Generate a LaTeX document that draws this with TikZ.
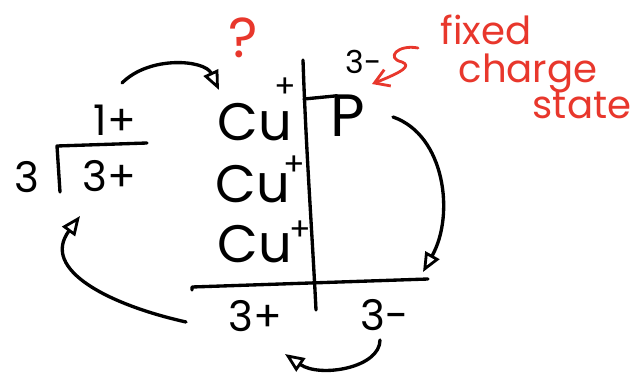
\documentclass[tikz,border=0pt]{standalone}
\usepackage{fontspec}
\setmainfont{Poppins}
\usetikzlibrary{arrows.meta}
\definecolor{inkred}{HTML}{E8372C}
\newcommand{\supplus}[2]{\kern#1\raisebox{#2}{\fontsize{18}{18}\selectfont +}}
\tikzset{
  ink/.style={line width=1.9pt, line cap=round, line join=round},
  arr/.style={ink, -{Triangle[open, length=11pt, width=9pt, line width=1.6pt]}},
  redarr/.style={ink, inkred, line width=1.6pt, -{Straight Barb[length=8pt, width=10pt, line width=1.6pt]}},
  big/.style={font=\fontsize{30}{30}\selectfont, inner sep=0pt},
  mid/.style={font=\fontsize{24}{24}\selectfont, inner sep=0pt},
  small/.style={font=\fontsize{18}{18}\selectfont, inner sep=0pt},
  redtxt/.style={text=inkred, font=\fontsize{22}{22}\selectfont, inner sep=0pt},
}
\begin{document}
\begin{tikzpicture}[x=0.02cm, y=-0.02cm]
\useasboundingbox (0,0) rectangle (636,379);
% question mark
\node[redtxt, font=\fontsize{32}{32}\selectfont] (q) at (243,38) {?};
% Cu column
\node[big, anchor=base west] (cu1) at (217,140) {Cu\supplus{-0.33em}{0.8em}};
\node[big, anchor=base west] (cu2) at (215,202) {Cu\supplus{-0.12em}{0.5em}};
\node[big, anchor=base west] (cu3) at (217,262) {Cu\supplus{-0.05em}{0.4em}};
% P and charge
\node[font=\fontsize{34}{34}\selectfont, inner sep=0pt, anchor=base west] (p) at (330,136) {P};
\node[small] (p3) at (364,62) {3-};
% lines
\coordinate (vtop) at (303,60);
\coordinate (vbot) at (316,310);
\draw[ink] (vtop) .. controls (306,150) and (312,230) .. (vbot);
\coordinate (hleft) at (192,290);
\coordinate (hright) at (428,279);
\draw[ink] (hleft) -- ++(0,-3) -- (hright);
\coordinate (ptop) at (304,99);
\draw[ink] (ptop) -- ([xshift=4pt,yshift=-1pt]p.north west);
% left division
\node[mid] (onep) at (115,120) {1+};
\node[mid] (three) at (27,177) {3};
\node[mid] (threep) at (109,176) {3+};
\coordinate (dtop) at (57,146);
\coordinate (dright) at (147,143);
\coordinate (dbot) at (60,192);
\draw[ink] (dbot) -- (dtop) -- (dright);
% bottom charges
\node[mid] (b3p) at (255,316) {3+};
\node[mid] (b3m) at (385,315) {3-};
% red annotation
\node[redtxt] (fx) at (486,30) {fixed};
\node[redtxt] (ch) at (528,73) {charge};
\node[redtxt] (st) at (582,105) {state};
\coordinate (rs) at (418,48);
\coordinate (re) at (372,84);
\draw[redarr] (rs) .. controls (398,44) and (385,58) .. (402,62) .. controls (412,66) and (402,72) .. (re);
% arrows
\coordinate (a1s) at (122,83);
\coordinate (a1e) at (219,90);
\draw[arr] (a1s) .. controls (150,55) and (205,60) .. (a1e);
\coordinate (a2s) at (393,117);
\coordinate (a2e) at (423,272);
\draw[arr] (a2s) .. controls (445,135) and (455,215) .. (a2e);
\coordinate (a3s) at (186,322);
\coordinate (a3e) at (80,216);
\draw[arr] (a3s) .. controls (110,305) and (40,270) .. (a3e);
\coordinate (a4s) at (380,340);
\coordinate (a4e) at (285,354);
\draw[arr] (a4s) .. controls (380,368) and (320,378) .. (a4e);
\end{tikzpicture}
\end{document}
